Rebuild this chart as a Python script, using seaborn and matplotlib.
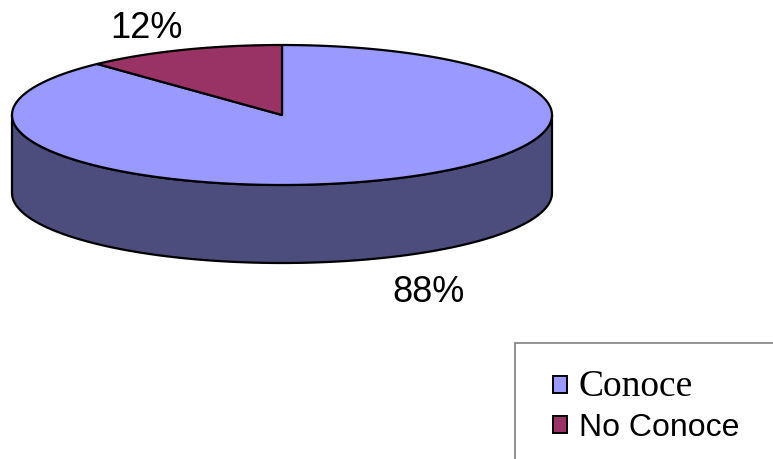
import numpy as np
import matplotlib
matplotlib.use("Agg")
import matplotlib.pyplot as plt
import seaborn as sns
from matplotlib.patches import Polygon, Rectangle, Patch

# ---- data ----
categories = ["Conoce", "No Conoce"]
values = [88, 12]
pct_labels = ["88%", "12%"]
top_colors = ["#9999FF", "#993366"]
side_colors = ["#4C4C7D", "#4C1A33"]

sns.set_theme(style="white")
plt.rcParams['font.family'] = ['Liberation Sans', 'DejaVu Sans']
plt.rcParams['text.color'] = 'black'

W, H = 773, 459
fig = plt.figure(figsize=(W / 100, H / 100), dpi=100)
ax = fig.add_axes([0, 0, 1, 1])
ax.set_xlim(0, W)
ax.set_ylim(H, 0)
ax.axis('off')

# geometry of the 3D pie (pixels)
cx, cy, rx, ry, depth = 282, 115, 270, 70, 78
lw = 1.6


def ell(theta, dy=0.0):
    t = np.radians(theta)
    return np.column_stack([cx + rx * np.cos(t), cy - ry * np.sin(t) + dy])


total = float(sum(values))
spans = [v / total * 360 for v in values]
# start at top, go clockwise
intervals = []
start = 90.0
for s in spans:
    intervals.append((start - s, start))
    start -= s

# side walls (front half: angles 180..360 mod 360)
for (a0, a1), col in zip(intervals, side_colors):
    for k in range(-2, 2):
        f0, f1 = 180 + 360 * k, 360 + 360 * k
        lo, hi = max(a0, f0), min(a1, f1)
        if hi > lo:
            th = np.linspace(lo, hi, 200)
            top = ell(th)
            bot = ell(th[::-1], depth)
            poly = Polygon(np.vstack([top, bot]), closed=True, facecolor=col,
                           edgecolor='black', linewidth=lw, joinstyle='round', zorder=1)
            ax.add_patch(poly)

# top faces
for (a0, a1), col in zip(intervals, top_colors):
    th = np.linspace(a0, a1, 300)
    pts = np.vstack([[cx, cy], ell(th)])
    ax.add_patch(Polygon(pts, closed=True, facecolor=col, edgecolor='black',
                         linewidth=lw, joinstyle='round', zorder=2))

# percentage labels
label_pos = {"Conoce": (428, 292), "No Conoce": (146, 28)}
for cat, lab in zip(categories, pct_labels):
    x, y = label_pos[cat]
    ax.text(x, y, lab, fontsize=26, ha='center', va='center', color='black',
            family=['Liberation Sans', 'DejaVu Sans'], zorder=5)

# legend frame (extends beyond figure edge)
ax.add_patch(Rectangle((515, 343), 400, 200, facecolor='white', edgecolor='#808080',
                       linewidth=1.2, zorder=3, clip_on=False))

handles = [Patch(facecolor=c, edgecolor='black', linewidth=1.4) for c in top_colors]
leg = fig.legend(handles, categories, loc='upper left',
                 bbox_to_anchor=(553 / W, 1 - 369 / H), frameon=False,
                 handlelength=0.45, handleheight=0.45, handletextpad=0.35,
                 labelspacing=0.3, borderaxespad=0, borderpad=0, fontsize=23)
texts = leg.get_texts()
texts[0].set_family(['Liberation Serif', 'DejaVu Serif'])
texts[0].set_fontsize(27)
texts[1].set_family(['Liberation Sans', 'DejaVu Sans'])
texts[1].set_fontsize(23)
for t in texts:
    t.set_color('black')
leg.set_zorder(6)

fig.savefig("out.png", dpi=100)
